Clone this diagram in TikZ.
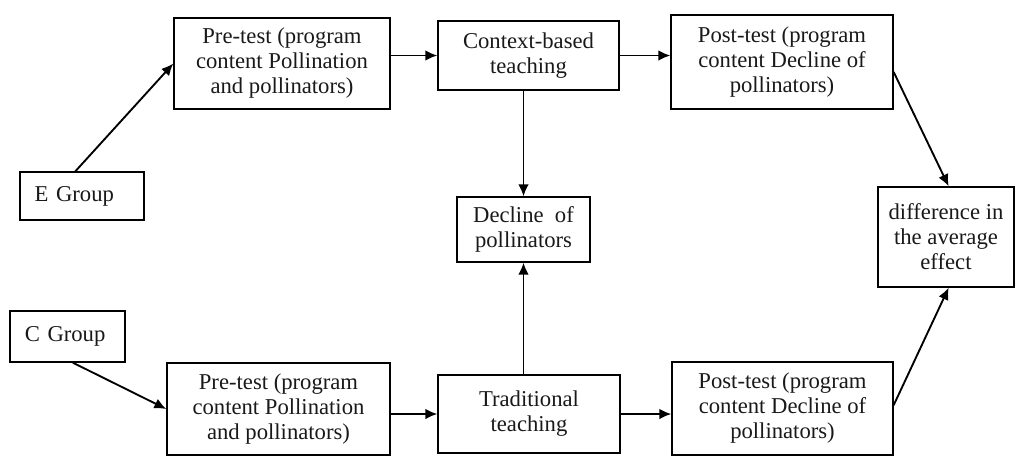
\documentclass[tikz,border=0pt]{standalone}
\usepackage{fontspec}
\setmainfont{Liberation Serif}
\usetikzlibrary{arrows.meta,calc}
\begin{document}
\begin{tikzpicture}[x=0.75pt,y=-0.75pt,
  box/.style={draw=black,line width=1pt,rectangle,align=center,inner sep=0pt,
    font=\fontsize{17}{18.75}\selectfont,text=black!90},
  lbox/.style={box,align=left},
  arr/.style={line width=1.4pt,-{Latex[length=9pt,width=8pt]}}]
\useasboundingbox (0,0) rectangle (1016,455);
\node[lbox,minimum width=93pt,minimum height=36pt,text width=71pt] (E) at (82,196) {E Group};
\node[lbox,minimum width=86.25pt,minimum height=38.25pt,text width=64pt] (C) at (67.5,336.5) {C Group};
\node[box,minimum width=162pt,minimum height=68.25pt] (PreT) at (282,63.5) {Pre-test (program\\content Pollination\\and pollinators)};
\node[box,minimum width=135.75pt,minimum height=51.75pt] (Ctx) at (528.5,55.5) {Context-based\\teaching};
\node[box,minimum width=166.5pt,minimum height=70.5pt] (PostT) at (782,62) {Post-test (program\\content Decline of\\pollinators)};
\node[box,minimum width=99.75pt,minimum height=48.75pt] (Decl) at (523.5,229.5) {Decline\ \ of\\pollinators};
\node[box,minimum width=102pt,minimum height=75pt] (Diff) at (946,237) {difference in\\the average\\effect};
\node[box,minimum width=167.25pt,minimum height=69pt] (PreB) at (278.5,409) {Pre-test (program\\content Pollination\\and pollinators)};
\node[box,minimum width=136.5pt,minimum height=58.5pt] (Trad) at (529,414) {Traditional\\teaching};
\node[box,minimum width=165.75pt,minimum height=69.75pt] (PostB) at (782.5,408.5) {Post-test (program\\content Decline of\\pollinators)};
\draw[arr] ([xshift=-5pt]E.north) -- (PreT.west);
\draw[arr] (PreT.east |- Ctx.west) -- (Ctx.west);
\draw[arr] (Ctx.east) -- (Ctx.east -| PostT.west);
\draw[arr] ([yshift=-7.5pt]PostT.east) -- ([xshift=2pt]Diff.north);
\draw[arr] (Decl.north |- Ctx.south) -- (Decl.north);
\draw[arr] (Decl.south |- Trad.north) -- (Decl.south);
\draw[arr] ([xshift=4pt]C.south) -- (PreB.west);
\draw[arr] (PreB.east |- Trad.west) -- (Trad.west);
\draw[arr] (Trad.east) -- (Trad.east -| PostB.west);
\draw[arr] ([yshift=2.5pt]PostB.east) -- ([xshift=2pt]Diff.south);
\end{tikzpicture}
\end{document}
